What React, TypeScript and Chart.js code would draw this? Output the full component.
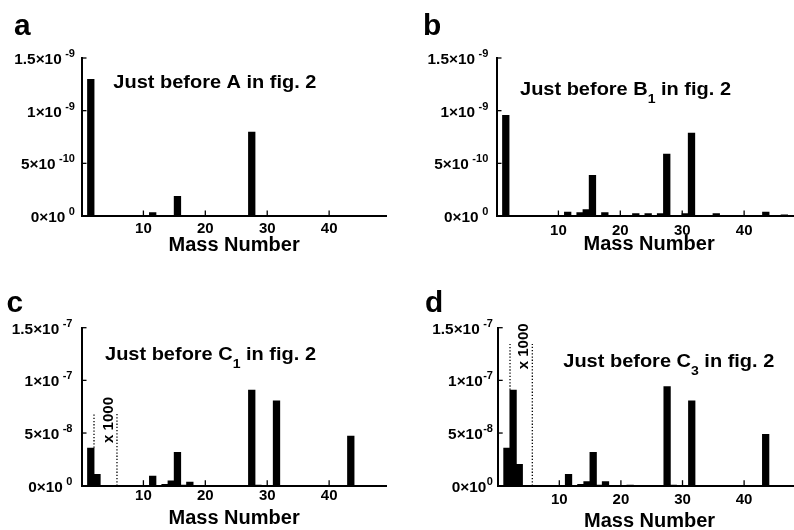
import React, { useEffect, useRef } from "react";
import { Chart, registerables } from "chart.js";

Chart.register(...registerables);

const FONT = "'Liberation Sans', Arial, Helvetica, sans-serif";

// ---------------- data ----------------
// mass numbers and partial pressures
const aMasses = [2, 12, 15, 16, 28];
const aValues = [1.3e-9, 3.6e-11, 1.0e-11, 1.9e-10, 8.0e-10];

const bMasses = [2, 7, 12, 14, 15, 16, 18, 23, 25, 27, 28, 29, 31, 32, 36, 37, 38, 43, 44, 47];
const bValues = [
  9.6e-10, 1.0e-11, 4.0e-11, 3.5e-11, 6.5e-11, 3.9e-10, 3.5e-11, 2.5e-11, 2.5e-11, 2.5e-11,
  5.9e-10, 1.0e-11, 2.5e-11, 7.9e-10, 2.5e-11, 1.0e-11, 5.0e-12, 1.0e-11, 4.0e-11, 1.5e-11,
];

const cMasses = [2, 3, 12, 14, 15, 16, 17, 18, 28, 29, 32, 44];
const cValues = [3.6e-8, 1.1e-8, 0.95e-8, 0.15e-8, 0.5e-8, 3.2e-8, 0.1e-8, 0.38e-8, 9.1e-8, 0.1e-8, 8.1e-8, 4.75e-8];

const dMasses = [2, 3, 4, 12, 14, 15, 16, 17, 18, 22, 28, 29, 32, 44];
const dValues = [3.6e-8, 9.1e-8, 2.05e-8, 1.1e-8, 0.15e-8, 0.42e-8, 3.2e-8, 0.1e-8, 0.42e-8, 0.1e-8, 9.45e-8, 0.1e-8, 8.1e-8, 4.9e-8];

const xTickValues = [10, 20, 30, 40];
const abYTickValues = [0, 5e-10, 1e-9, 1.5e-9];
const cdYTickValues = [0, 5e-8, 1e-7, 1.5e-7];

const aYTickLabels = ["0×10 ^0", "5×10 ^-10", "1×10 ^-9", "1.5×10 ^-9"];
const bYTickLabels = ["0×10 ^0", "5×10 ^-10", "1×10 ^-9", "1.5×10 ^-9"];
const cYTickLabels = ["0×10 ^0", "5×10 ^-8", "1×10 ^-7", "1.5×10 ^-7"];
const dYTickLabels = ["0×10^0", "5×10^-8", "1×10^-7", "1.5×10 ^-7"];

const panelLetters = ["a", "b", "c", "d"];
const panelNotes = [
  "Just before A in fig. 2",
  "Just before B_1 in fig. 2",
  "Just before C_1 in fig. 2",
  "Just before C_3 in fig. 2",
];
const xAxisTitle = "Mass Number";
const scaleNote = "x 1000";

// ---------------- layout ----------------
const X_AXIS_H = 44;
const X_MAX = 49.3;

type Marker = { lines: number[][]; label: number[] } | null;
type PanelCfg = {
  left: number; top: number; w: number; h: number;
  area: { l: number; t: number; b: number; r: number };
  letterPos: number[]; notePos: number[];
  tickPad: number; titlePad: number; yLabelGap: number;
  yMax: number; marker: Marker;
};

const panelLayouts: PanelCfg[] = [
  { left: 0, top: 0, w: 400, h: 265, area: { l: 81.5, t: 58, b: 216, r: 386.7 }, letterPos: [14, 35], notePos: [5.14, 1.216e-9], tickPad: 3.6, titlePad: 4.5, yLabelGap: 6.5, yMax: 1.5e-9, marker: null },
  { left: 400, top: 0, w: 410, h: 265, area: { l: 96.5, t: 58, b: 216, r: 401.7 }, letterPos: [23, 35], notePos: [3.8, 1.144e-9], tickPad: 6.1, titlePad: 5.5, yLabelGap: 8.2, yMax: 1.5e-9, marker: null },
  { left: 0, top: 265, w: 400, h: 265, area: { l: 81.5, t: 62.7, b: 220.7, r: 386.7 }, letterPos: [6.5, 46.7], notePos: [3.8, 1.193e-7], tickPad: 0.8, titlePad: 1.3, yLabelGap: 9, yMax: 1.5e-7, marker: { lines: [[2.02, 3.6e-8, 6.93e-8], [5.73, 0, 6.87e-8]], label: [4.44, 6.24e-8] } },
  { left: 400, top: 265, w: 410, h: 265, area: { l: 97.7, t: 62.7, b: 220.7, r: 401.4 }, letterPos: [25, 46.7], notePos: [10.65, 1.13e-7], tickPad: 5.6, titlePad: -2, yLabelGap: 4.7, yMax: 1.5e-7, marker: { lines: [[2.0, 9.1e-8, 1.345e-7], [5.62, 0, 1.345e-7]], label: [4.22, 1.323e-7] } },
];

const panelData = [
  { masses: aMasses, values: aValues, yTicks: abYTickValues, yLabels: aYTickLabels },
  { masses: bMasses, values: bValues, yTicks: abYTickValues, yLabels: bYTickLabels },
  { masses: cMasses, values: cValues, yTicks: cdYTickValues, yLabels: cYTickLabels },
  { masses: dMasses, values: dValues, yTicks: cdYTickValues, yLabels: dYTickLabels },
];

function drawText(ctx: CanvasRenderingContext2D, text: string, x: number, y: number, font: string, align: string, sx: number) {
  ctx.save();
  ctx.font = font;
  const w = ctx.measureText(text).width * sx;
  const x0 = align === "right" ? x - w : align === "center" ? x - w / 2 : x;
  ctx.translate(x0, y);
  ctx.scale(sx, 1);
  ctx.textAlign = "left";
  ctx.fillText(text, 0, 0);
  ctx.restore();
  return w;
}

function Panel({ idx }: { idx: number }) {
  const ref = useRef<HTMLCanvasElement | null>(null);
  const cfg = panelLayouts[idx];
  const d = panelData[idx];

  useEffect(() => {
    if (!ref.current) return;
    const decor = {
      id: "decor" + idx,
      afterDraw(chart: any) {
        const ctx: CanvasRenderingContext2D = chart.ctx;
        const xs = chart.scales.x;
        const ys = chart.scales.y;
        const { left, bottom } = chart.chartArea;
        ctx.save();
        ctx.fillStyle = "#000";
        ctx.strokeStyle = "#000";

        // inward tick marks
        ctx.lineWidth = 1.3;
        xs.ticks.forEach((t: any) => {
          const px = xs.getPixelForValue(t.value);
          ctx.beginPath();
          ctx.moveTo(px, bottom);
          ctx.lineTo(px, bottom - 5.5);
          ctx.stroke();
        });
        ys.ticks.forEach((t: any) => {
          if (t.value === 0) return;
          const py = ys.getPixelForValue(t.value);
          ctx.beginPath();
          ctx.moveTo(left, py);
          ctx.lineTo(left + 5, py);
          ctx.stroke();
        });

        // y tick labels with superscript exponents
        ctx.textBaseline = "middle";
        d.yTicks.forEach((v, i) => {
          const py = ys.getPixelForValue(v);
          const [baseRaw, sup] = d.yLabels[i].split("^");
          const gap = baseRaw.endsWith(" ") ? 3.5 : 0.5;
          const base = baseRaw.trimEnd();
          const rx = left - cfg.yLabelGap;
          const sw = drawText(ctx, sup, rx, py + 2 - 6, `bold 10.5px ${FONT}`, "right", 1.05);
          drawText(ctx, base, rx - sw - gap, py + 2, `bold 14.5px ${FONT}`, "right", 1.06);
        });

        // panel letter
        ctx.textBaseline = "alphabetic";
        drawText(ctx, panelLetters[idx], cfg.letterPos[0], cfg.letterPos[1], `bold 29px ${FONT}`, "left", 1.03);

        // annotation with subscripts
        const parts = panelNotes[idx].split(/_(.)/);
        let nx = xs.getPixelForValue(cfg.notePos[0]);
        const ny = ys.getPixelForValue(cfg.notePos[1]);
        parts.forEach((p, i) => {
          if (!p) return;
          const isSub = i % 2 === 1;
          nx += drawText(ctx, p, nx, isSub ? ny + 8 : ny, isSub ? `bold 13px ${FONT}` : `bold 18.5px ${FONT}`, "left", 1.08);
        });

        // x1000 marker
        if (cfg.marker) {
          ctx.lineWidth = 1.3;
          ctx.setLineDash([1.3, 1.9]);
          cfg.marker.lines.forEach((l) => {
            const px = xs.getPixelForValue(l[0]);
            ctx.beginPath();
            ctx.moveTo(px, ys.getPixelForValue(l[1]));
            ctx.lineTo(px, ys.getPixelForValue(l[2]));
            ctx.stroke();
          });
          ctx.setLineDash([]);
          const lx = xs.getPixelForValue(cfg.marker.label[0]);
          const ly = ys.getPixelForValue(cfg.marker.label[1]);
          ctx.save();
          ctx.translate(lx, ly);
          ctx.rotate(-Math.PI / 2);
          ctx.font = `bold 15px ${FONT}`;
          ctx.textAlign = "center";
          ctx.textBaseline = "middle";
          ctx.fillText(scaleNote, 0, 0);
          ctx.restore();
        }
        ctx.restore();
      },
    };

    const chart = new Chart(ref.current, {
      type: "bar",
      data: {
        datasets: [
          {
            data: d.masses.map((m, i) => ({ x: m - 0.5, y: d.values[i] })),
            backgroundColor: "#000",
            borderWidth: 0,
            barPercentage: 1.18,
            categoryPercentage: 1,
          } as any,
        ],
      },
      options: {
        responsive: false,
        animation: false,
        devicePixelRatio: 1,
        layout: {
          padding: {
            left: cfg.area.l,
            top: cfg.area.t,
            right: cfg.w - cfg.area.r,
            bottom: cfg.h - cfg.area.b - X_AXIS_H,
          },
        },
        plugins: { legend: { display: false }, tooltip: { enabled: false } },
        scales: {
          x: {
            type: "linear",
            min: 0,
            max: X_MAX,
            offset: false,
            afterBuildTicks: (s: any) => {
              s.ticks = xTickValues.map((v) => ({ value: v }));
            },
            afterFit: (s: any) => {
              s.height = X_AXIS_H;
            },
            grid: { display: false, drawTicks: false, offset: false },
            border: { display: true, color: "#000", width: 2 },
            ticks: {
              color: "#000",
              font: { family: FONT, size: 15, weight: "bold" },
              padding: cfg.tickPad,
              maxRotation: 0,
              autoSkip: false,
            },
            title: {
              display: true,
              text: xAxisTitle,
              color: "#000",
              font: { family: FONT, size: 20, weight: "bold", lineHeight: 1 },
              padding: { top: 0, bottom: cfg.titlePad },
            },
          },
          y: {
            type: "linear",
            min: 0,
            max: cfg.yMax,
            afterBuildTicks: (s: any) => {
              s.ticks = d.yTicks.map((v) => ({ value: v }));
            },
            afterFit: (s: any) => {
              s.width = 0;
            },
            grid: { display: false, drawTicks: false },
            border: { display: true, color: "#000", width: 2 },
            ticks: { display: false },
          },
        },
      } as any,
      plugins: [decor],
    });
    return () => chart.destroy();
  }, []);

  return (
    <div style={{ position: "absolute", left: cfg.left, top: cfg.top, width: cfg.w, height: cfg.h }}>
      <canvas ref={ref} width={cfg.w} height={cfg.h} style={{ display: "block", width: cfg.w, height: cfg.h }} />
    </div>
  );
}

export default function App() {
  return (
    <div
      style={{
        position: "absolute",
        left: 0,
        top: 0,
        width: 794,
        height: 530,
        overflow: "hidden",
        background: "#fff",
      }}
    >
      {[0, 1, 2, 3].map((i) => (
        <Panel key={i} idx={i} />
      ))}
    </div>
  );
}
